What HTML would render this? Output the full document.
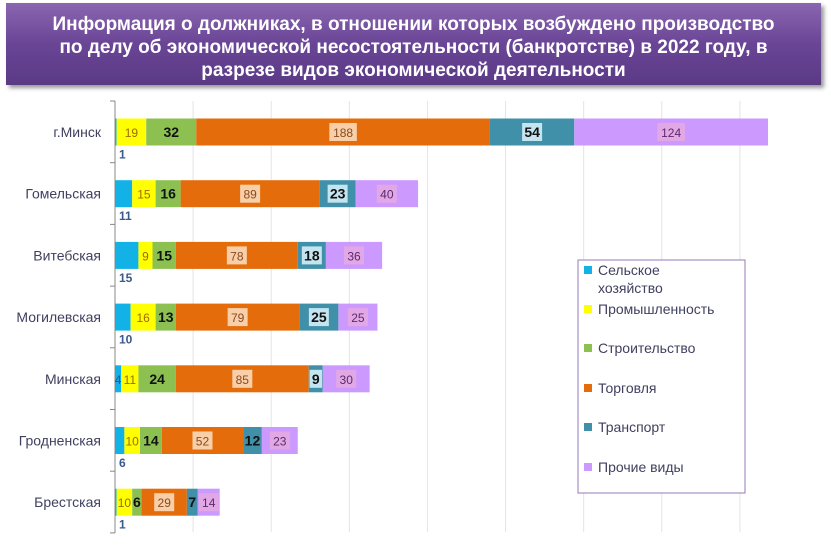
<!DOCTYPE html>
<html><head><meta charset="utf-8">
<style>
body{margin:0;width:831px;height:549px;background:#fff;overflow:hidden;font-family:"Liberation Sans",sans-serif;}
#title{position:absolute;left:6px;top:3px;width:815px;height:82px;background:linear-gradient(#8a66b0,#6a4596 50%,#5a3a85);box-shadow:3px 3px 4px #999;color:#fff;font-weight:bold;font-size:19px;line-height:23px;text-align:center;padding-top:10px;box-sizing:border-box;}
</style></head><body>
<div id="title">Информация о должниках, в отношении которых возбуждено производство<br>по делу об экономической несостоятельности (банкротстве) в 2022 году, в<br>разрезе видов экономической деятельности</div>
<svg id="chart" width="831" height="549" style="position:absolute;left:0;top:0"></svg>
<script>
const categories=["г.Минск","Гомельская","Витебская","Могилевская","Минская","Гродненская","Брестская"];
const seriesNames=["Сельское хозяйство","Промышленность","Строительство","Торговля","Транспорт","Прочие  виды"];
const agri=[1,11,15,10,4,6,1];
const industry=[19,15,9,16,11,10,10];
const construction=[32,16,15,13,24,14,6];
const trade=[188,89,78,79,85,52,29];
const transport=[54,23,18,25,9,12,7];
const other=[124,40,36,25,30,23,14];
const series=[agri,industry,construction,trade,transport,other];
const colors=["#12b1e6","#ffff00","#8cc152","#e46c0a","#3f90a8","#cc99ff"];
const labelBg=[null,null,null,"#f8cfa8","#c4e4f0","#e2a8e6"];
const labelColor=["#2c4f8c","#a06a00","#111","#8a4a20","#111","#5a2a6a"];
const NS="http://www.w3.org/2000/svg";
const svg=document.getElementById('chart');
const x0=115,scale=653/418,yTop=101,rowH=61.7,barH=27;
const xPos=v=>x0+v*scale;
const yPos=i=>yTop+rowH*i+31;
function mk(t,a){const e=document.createElementNS(NS,t);for(const k in a)e.setAttribute(k,a[k]);svg.appendChild(e);return e;}
for(let g=1;g<=8;g++){const l=mk('line',{x1:xPos(g*50),x2:xPos(g*50),y1:101,y2:532,stroke:'#e4e4e4','stroke-width':1});

}
const ax=mk('line',{x1:x0,x2:x0,y1:101,y2:533,stroke:'#888'});


for(let i=0;i<=categories.length;i++){const t=mk('line',{x1:x0-5,x2:x0,y1:yTop+rowH*i,y2:yTop+rowH*i,stroke:'#888'});

}
categories.forEach((c,i)=>{
 const cy=yPos(i);
 const tl=mk('text',{x:101,y:cy+5,'text-anchor':'end','font-size':14,fill:'#404060'});tl.textContent=c;
 
 
 let acc=0;
 series.forEach((s,k)=>{
  const v=s[i];const x=xPos(acc),w=v*scale;
  const r=mk('rect',{x:x,y:cy-barH/2,width:w,height:barH,fill:colors[k]});
  
  
  const cx=x+w/2;
  if(k===0&&v<=15&&i!==4){
   const t=mk('text',{x:x0+4,y:cy+barH/2+13,'font-size':12,'font-weight':'bold',fill:'#3a5a8c'});t.textContent=v;
   
   
  } else {
   const txt=String(v);const tw=txt.length*7.5+5;
   if(labelBg[k]&&w>tw){const b=mk('rect',{x:cx-tw/2,y:cy-9,width:tw,height:18,fill:labelBg[k]});
    
    }
   const bold=(k===2||k===4);
   const t=mk('text',{x:cx,y:cy+5,'text-anchor':'middle','font-size':bold?14:12,'font-weight':bold?'bold':'normal',fill:k===0?'#2c4f8c':labelColor[k]});t.textContent=txt;
   
   
  }
  acc+=v;
 });
});
const lg=mk('rect',{x:578,y:260,width:167,height:233,fill:'#fff',stroke:'#9a7ab8'});


const ly=[270,309,348,388,427,467];
seriesNames.forEach((n,k)=>{
 const s=mk('rect',{x:584,y:ly[k]-4,width:8,height:8,fill:colors[k]});
 
 
 const t=mk('text',{x:598,y:ly[k]+5,'font-size':14,fill:'#404060'});
 
 
 if(k===0){t.textContent='Сельское';const t2=mk('text',{x:598,y:ly[k]+23,'font-size':14,fill:'#404060'});t2.textContent='хозяйство';
  
  }
 else t.textContent=(k===3?' ':'')+n;
});
</script>
</body></html>
